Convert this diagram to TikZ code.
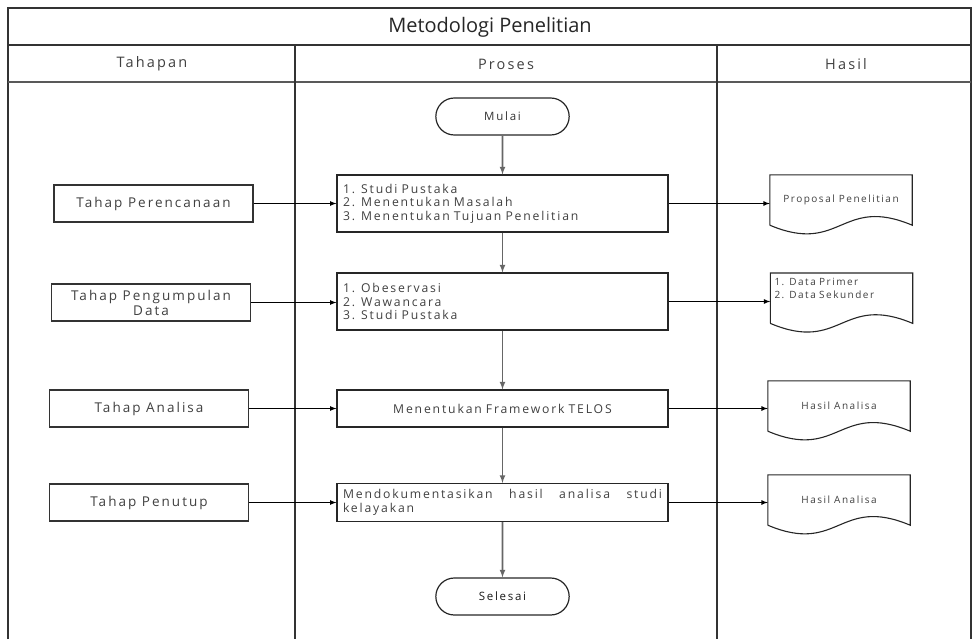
\documentclass[tikz,border=0pt]{standalone}
\usepackage{fontspec}
\setmainfont{Open Sans}
\newfontfamily\spaced[LetterSpace=15]{Open Sans}
\usetikzlibrary{
	positioning
	,shapes.misc
}
\hyphenpenalty=10000
\exhyphenpenalty=10000
\definecolor{teks}{HTML}{404040}
\tikzset{
	>=latex
	,garis/.style={draw=black!80, line width=1.8pt}
	,tahap/.style={
		draw=black!80
		,line width=1.2pt
		,minimum width=199pt
		,minimum height=37pt
		,align=center
		,text=teks
		,font=\spaced\fontsize{13.5}{15}\selectfont
	}
	,proses/.style={
		draw=black!85
		,line width=1.2pt
		,minimum width=331pt
		,minimum height=57pt
		,text width=319pt
		,align=left
		,text=teks
		,font=\spaced\fontsize{12.2}{13.6}\selectfont
	}
	,terminal/.style={
		draw=black!85
		,line width=1.2pt
		,rounded rectangle
		,minimum width=140pt
		,minimum height=37pt
		,text=black!80
		,font=\spaced\fontsize{11.5}{13}\selectfont
	}
	,hasil/.style={
		minimum width=142pt
		,minimum height=50pt
		,text=teks
		,font=\spaced\fontsize{10}{12.5}\selectfont
	}
	,panah/.style={->, line width=1.2pt, black}
	,turun/.style={->, line width=1.6pt, black!60}
}
\begin{document}
\begin{tikzpicture}[x=1pt, y=-1pt]
\useasboundingbox (0,0) rectangle (973,639);
% kerangka tabel
\draw[garis] (8,639) -- (8,8) -- (971,8) -- (971,639);
\draw[garis] (8,45) -- (971,45);
\draw[black!65, line width=1.4pt] (8,82) -- (971,82);
\draw[garis] (295,45) -- (295,639);
\draw[garis] (717,45) -- (717,639);
\node[font=\fontsize{20}{24}\selectfont, text=black!85] (judul) at (490,27) {Metodologi Penelitian};
\node[font=\spaced\fontsize{14.5}{16}\selectfont, text=teks] (kTahap) at (152,64) {Tahapan};
\node[font=\spaced\fontsize{14.5}{16}\selectfont, text=teks] (kProses) at (506,64) {Proses};
\node[font=\spaced\fontsize{14.5}{16}\selectfont, text=teks] (kHasil) at (846,64) {Hasil};

% tahapan
\node[tahap] (t1) at (153.5,203.5) {Tahap Perencanaan};
\node[tahap] (t2) at (151,302.5) {Tahap Pengumpulan\\Data};
\node[tahap] (t3) at (149,408.5) {Tahap Analisa};
\node[tahap] (t4) at (149,502.5) {Tahap Penutup};

% proses
\node[terminal] (mulai) at (502.5,116.5) {Mulai};
\node[proses] (p1) at (502.5,203.5) {1. Studi Pustaka\\2. Menentukan Masalah\\3. Menentukan Tujuan Penelitian};
\node[proses] (p2) at (502.5,301.5) {1. Obeservasi\\2. Wawancara\\3. Studi Pustaka};
\node[proses, minimum height=37pt, align=center] (p3) at (502.5,408.5) {Menentukan Framework TELOS};
\node[proses, minimum height=38pt, align=justify] (p4) at (502.5,502.5) {Mendokumentasikan hasil analisa studi kelayakan};
\node[terminal, text=black!90] (selesai) at (502.5,596.5) {Selesai};

% hasil
\node[hasil] (h1) at (841,200) {Proposal Penelitian};
\node[hasil, anchor=north, text width=134pt, align=left, inner ysep=5pt, text depth=32pt] (h2) at (841.5,273) {1. Data Primer\\2. Data Sekunder};
\node[hasil] (h3) at (839,406) {Hasil Analisa};
\node[hasil] (h4) at (839,500) {Hasil Analisa};
\foreach \h in {h1,h2,h3,h4}
	\draw[black!85, line width=1.1pt] (\h.south west) -- (\h.north west) -- (\h.north east) -- (\h.south east)
		.. controls ([yshift=30pt]\h.south) and ([yshift=-30pt]\h.south) .. (\h.south west);

% panah
\draw[turun] (mulai) -- (p1);
\draw[turun] (p1) -- (p2);
\draw[turun] (p2) -- (p3);
\draw[turun] (p3) -- (p4);
\draw[turun] (p4) -- (selesai);
\foreach \i in {1,2,3,4} {
	\draw[panah] (t\i.east) -- (t\i.east -| p\i.west);
	\draw[panah] (p\i.east) -- (p\i.east -| h\i.west);
}
\end{tikzpicture}
\end{document}
